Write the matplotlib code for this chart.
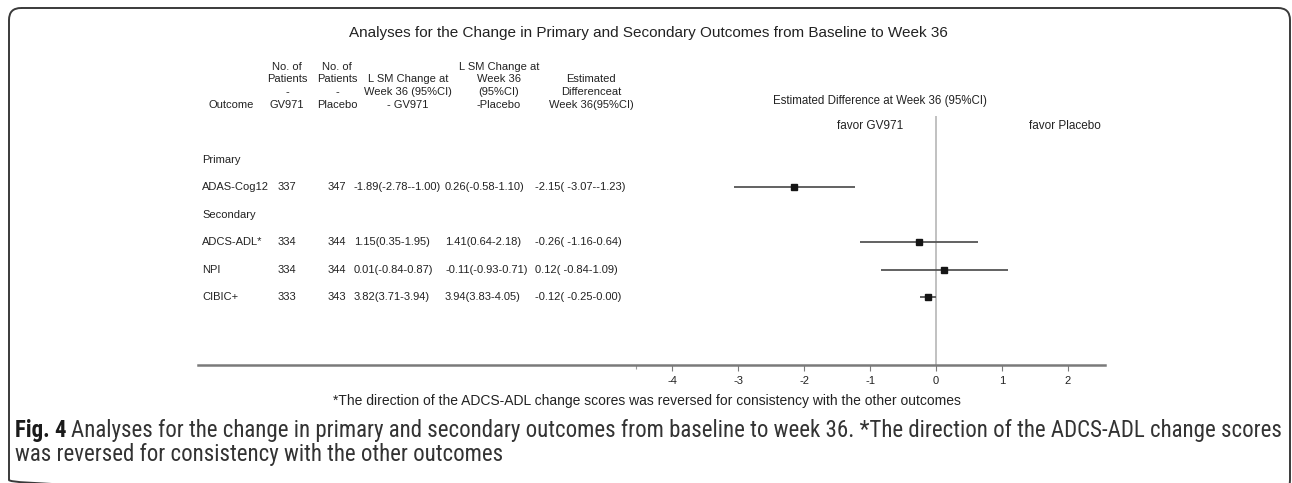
#forest plot of the change from baseline to week 36, with the outcome table on the left

import matplotlib
matplotlib.use("Agg")
import matplotlib.pyplot as plt
from matplotlib import font_manager
from matplotlib.patches import FancyBboxPatch
from matplotlib.transforms import blended_transform_factory

W, H = 1292, 483

plt.rcParams['font.family'] = ['Liberation Sans', 'DejaVu Sans']

# table rows
outcomes = ["Primary", "ADAS-Cog12", "Secondary", "ADCS-ADL*", "NPI", "CIBIC+"]
n_gv971 = ["", "337", "", "334", "334", "333"]
n_placebo = ["", "347", "", "344", "344", "343"]
lsm_gv971 = ["", "-1.89(-2.78--1.00)", "", "1.15(0.35-1.95)", "0.01(-0.84-0.87)", "3.82(3.71-3.94)"]
lsm_placebo = ["", "0.26(-0.58-1.10)", "", "1.41(0.64-2.18)", "-0.11(-0.93-0.71)", "3.94(3.83-4.05)"]

# estimated difference GV971 - placebo at week 36 (95% CI)
diff_rows = [1, 3, 4, 5]
diff_est = [-2.15, -0.26, 0.12, -0.12]
diff_lo = [-3.07, -1.16, -0.84, -0.25]
diff_hi = [-1.23, 0.64, 1.09, 0.00]

xticks = [-4, -3, -2, -1, 0, 1, 2]

title = "Analyses for the Change in Primary and Secondary Outcomes from Baseline to Week 36"
footnote = "*The direction of the ADCS-ADL change scores was reversed for consistency with the other outcomes"
caption_1 = ("Analyses for the change in primary and secondary outcomes from baseline to week 36. "
             "*The direction of the ADCS-ADL change scores")
caption_2 = "was reversed for consistency with the other outcomes"

# header lines, bottom aligned
headers = [
    (231, ["Outcome"]),
    (287, ["No. of", "Patients", "-", "GV971"]),
    (337, ["No. of", "Patients", "-", "Placebo"]),
    (408, ["L SM Change at", "Week 36 (95%CI)", "- GV971"]),
    (499, ["L SM Change at", "Week 36", "(95%CI)", "-Placebo"]),
    (591, ["Estimated", "Differenceat", "Week 36(95%CI)"]),
]

diff_text = [""] * len(outcomes)
for r, e, lo, hi in zip(diff_rows, diff_est, diff_lo, diff_hi):
    diff_text[r] = "{:.2f}( {:.2f}-{:.2f})".format(e, lo, hi)

fig = plt.figure(figsize=(W / 100, H / 100), dpi=100)

# full figure axes in pixel units, for the frame and the free text
frame = fig.add_axes([0, 0, 1, 1])
frame.set_xlim(0, W)
frame.set_ylim(H, 0)
frame.axis('off')

frame.add_patch(FancyBboxPatch((9, 8), 1281, 484, boxstyle="round,pad=0,rounding_size=12",
                               facecolor='none', edgecolor='#3a3a3a', linewidth=1.4))

# forest panel
ax = fig.add_axes([198 / W, (H - 365) / H, (1105 - 198) / W, (365 - 116) / H])
ax.patch.set_alpha(0)
ax.set_xlim(-11.2, 2.565)
ax.set_ylim(7.48, -1.6)
for s in ['top', 'left', 'right']:
    ax.spines[s].set_visible(False)
ax.spines['bottom'].set_color('#7a7a7a')
ax.spines['bottom'].set_linewidth(1.8)
ax.set_yticks([])
ax.set_xticks(xticks)
ax.set_xticklabels([str(t) for t in xticks])
ax.set_xticks([-4.55], minor=True)
ax.tick_params(axis='x', which='major', length=4, width=0.8, color='#7a7a7a',
               labelsize=8, labelcolor='#222222', pad=4)
ax.tick_params(axis='x', which='minor', length=3, width=0.8, color='#9a9a9a')

ax.axvline(0, color='#b0b0b0', linewidth=1.1, zorder=1)
ax.hlines(diff_rows, diff_lo, diff_hi, color='#555555', linewidth=1.3, zorder=2)
ax.plot(diff_est, diff_rows, 's', color='#151515', markersize=4.2, zorder=3)

# table text, rows follow the forest panel's y scale
tr = blended_transform_factory(frame.transData, ax.transData)
tsize = 8
for i, name in enumerate(outcomes):
    ax.text(202, i, name, transform=tr, fontsize=tsize, va='center', ha='left', color='#222222')
    ax.text(287, i, n_gv971[i], transform=tr, fontsize=tsize, va='center', ha='center', color='#222222')
    ax.text(337, i, n_placebo[i], transform=tr, fontsize=tsize, va='center', ha='center', color='#222222')
    ax.text(354, i, lsm_gv971[i], transform=tr, fontsize=tsize, va='center', ha='left', color='#222222')
    ax.text(445, i, lsm_placebo[i], transform=tr, fontsize=tsize, va='center', ha='left', color='#222222')
    ax.text(535, i, diff_text[i], transform=tr, fontsize=tsize, va='center', ha='left', color='#222222')

for x, lines in headers:
    n = len(lines)
    for k, line in enumerate(lines):
        y = 104.5 - (n - 1 - k) * 12.5
        frame.text(x, y, line, fontsize=tsize, ha='center', va='center', color='#222222')

frame.text(648, 33, title, fontsize=11, ha='center', va='center', color='#222222')
frame.text(880, 101, "Estimated Difference at Week 36 (95%CI)", fontsize=8.3,
           ha='center', va='center', color='#222222')
frame.text(870, 126, "favor GV971", fontsize=8.5, ha='center', va='center', color='#222222')
frame.text(1065, 126, "favor Placebo", fontsize=8.5, ha='center', va='center', color='#222222')
frame.text(647, 401, footnote, fontsize=10, ha='center', va='center', color='#222222')

# caption below the chart, in a narrow face when one is installed
available = {f.name for f in font_manager.fontManager.ttflist}
cap_font = 'Liberation Sans'
for f in ["Liberation Sans Narrow", "DejaVu Sans Condensed", "Roboto Condensed"]:
    if f in available:
        cap_font = f
        break

fig.canvas.draw()
renderer = fig.canvas.get_renderer()
probe = frame.text(0, 0, "Fig. 4 " + caption_1, fontsize=10, family=cap_font)
scale = (1270 - 15) / probe.get_window_extent(renderer).width
probe.remove()
cap_size = 10 * scale

fig_lbl = frame.text(15, 430, "Fig. 4", fontsize=cap_size, family=cap_font, fontweight='bold',
                     ha='left', va='center', color='#1a1a1a')
bb = fig_lbl.get_window_extent(renderer)
frame.text(bb.x1 + cap_size * 0.3, 430, caption_1, fontsize=cap_size, family=cap_font,
           ha='left', va='center', color='#333333')
frame.text(15, 454, caption_2, fontsize=cap_size, family=cap_font,
           ha='left', va='center', color='#333333')

plt.savefig("out.png", dpi=100)
plt.close()
